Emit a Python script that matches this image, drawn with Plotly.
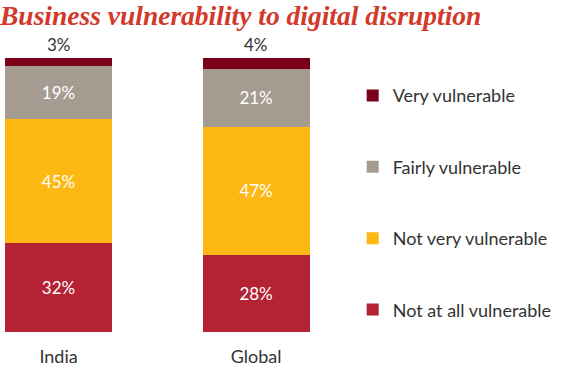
import plotly.graph_objects as go

categories = ["India", "Global"]
series_names = ["Not at all vulnerable", "Not very vulnerable", "Fairly vulnerable", "Very vulnerable"]
not_at_all = [32, 28]
not_very = [45, 47]
fairly = [19, 21]
very = [3, 4]
colors = ["#b52233", "#fdb813", "#a69b91", "#7b0019"]

values = [not_at_all, not_very, fairly, very]
FONT = "Lato"

fig = go.Figure()
for i, (name, vals, col) in enumerate(zip(series_names, values, colors)):
    inside = name != "Very vulnerable"
    fig.add_trace(go.Bar(
        x=categories, y=vals, name=name, marker=dict(color=col, line=dict(width=0)),
        width=0.542, legendgroup=name, legendrank=len(series_names) - i,
        text=[f"{v}%" for v in vals] if inside else None,
        textposition="inside" if inside else "none",
        insidetextanchor="middle",
        textfont=dict(color="white", size=17, family=FONT),
        hoverinfo="skip",
    ))

for c, v in zip(categories, very):
    fig.add_annotation(x=c, y=100, text=f"{v}%", showarrow=False, yanchor="bottom", yshift=1,
                       font=dict(size=17, color="#333333", family=FONT))

fig.update_layout(
    width=561, height=368,
    barmode="stack", barnorm="percent",
    paper_bgcolor="white", plot_bgcolor="white",
    margin=dict(l=5, r=251, t=58, b=36, autoexpand=False),
    title=dict(text="<b><i>Business vulnerability to digital disruption</i></b>",
               x=0.0, xref="container", xanchor="left", y=0.985, yref="container", yanchor="top",
               font=dict(family="Liberation Serif", size=27.5, color="#d3392a")),
    xaxis=dict(range=[-0.271, 1.273], showgrid=False, zeroline=False, showline=False,
               tickfont=dict(size=18, color="#333333", family=FONT), ticks="", ticklabelstandoff=12),
    yaxis=dict(range=[0, 100], visible=False),
    showlegend=True,
    legend=dict(x=1.14, xanchor="left", y=0.93, yanchor="top", traceorder="grouped",
                tracegroupgap=45, font=dict(size=18, color="#333333", family=FONT),
                itemwidth=30, bgcolor="rgba(0,0,0,0)"),
)

fig.write_html("out.html", post_script="document.body.style.margin='0';",
               config={"displayModeBar": False})
